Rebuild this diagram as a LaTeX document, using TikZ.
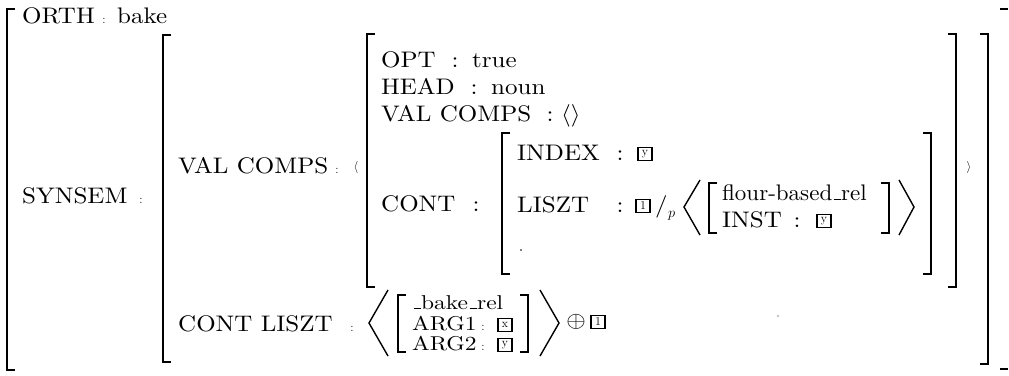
\documentclass[tikz,border=0pt]{standalone}
\newcommand\tx[1]{\scalebox{2.5}[2.25]{#1}}
\newcommand\tf[1]{\scalebox{2.3}[2.25]{#1}}
\newcommand\ts[1]{\scalebox{2.35}[2.0]{#1}}
\newcommand\us{\leavevmode\kern.06em\vbox{\hrule width .3em height 0.5pt}\kern.02em}
\begin{document}
\begin{tikzpicture}[x=1pt,y=-1pt,
  lbl/.style={anchor=base west, inner sep=0pt, font=\fontsize{10}{12}\selectfont},
  sc/.style={anchor=base, inner sep=0pt, font=\fontsize{12}{14}\selectfont},
  nc/.style={anchor=base, inner sep=0pt, font=\fontsize{10}{12}\selectfont},
  tag/.style={draw, line width=1.1pt, minimum width=14pt, minimum height=13pt, inner sep=0pt, font=\fontsize{12}{14}\selectfont},
  br/.style={line width=1.5pt},
  ang/.style={line width=1.4pt},
]
\useasboundingbox (0,0) rectangle (1009,375);
\newcommand\lbrk[3]{\draw[br] (#1+8,#2) -- (#1,#2) -- (#1,#3) -- (#1+8,#3);}
\newcommand\rbrk[3]{\draw[br] (#1-8,#2) -- (#1,#2) -- (#1,#3) -- (#1-8,#3);}
% outer matrix
\lbrk{7}{9}{370}
\draw[br] (1000,9) -- (1008,9);
\draw[br] (1000,369) -- (1008,369);
\node[lbl] (orth) at (22,23) {\tx{ORTH}};
\node[sc] (c1) at (104,23) {:};
\node[lbl] (bake) at (117,23) {\tx{bake}};
\node[lbl] (synsem) at (22,203) {\tx{SYNSEM}};
\node[sc] (c2) at (141,203) {:};
% synsem value
\lbrk{163}{35}{362}
\rbrk{988}{34}{364}
\node[lbl] (vc) at (178,173) {\tx{VAL COMPS}};
\node[sc] (c3) at (337,173) {:};
\node[anchor=base, inner sep=0pt, font=\fontsize{12}{14}\selectfont] (la) at (356,170) {$\langle$};
\node[anchor=base, inner sep=0pt, font=\fontsize{12}{14}\selectfont] (ra) at (969,170) {$\rangle$};
% val comps element
\lbrk{367}{34}{287}
\rbrk{956}{34}{287}
\node[lbl] (opt) at (381,67) {\tx{OPT}};
\node[nc] (c4) at (455,67) {\tx{:}};
\node[lbl] (true) at (472,67) {\tx{true}};
\node[lbl] (head) at (381,94) {\tx{HEAD}};
\node[nc] (c5) at (474,94) {\tx{:}};
\node[lbl] (noun) at (491,94) {\tx{noun}};
\node[lbl] (vc2) at (381,121) {\tx{VAL COMPS}};
\node[nc] (c6) at (550,121) {\tx{:}};
\node[lbl] (empty) at (561,121) {\tx{$\langle\rangle$}};
\node[lbl] (cont) at (381,211) {\tx{CONT}};
\node[nc] (c7) at (476,211) {\tx{:}};
% cont value
\lbrk{502}{133}{274}
\rbrk{931}{133}{274}
\node[lbl] (index) at (517,160) {\tx{INDEX}};
\node[nc] (c8) at (620,160) {\tx{:}};
\node[tag] (ty1) at (645,154) {y};
\node[lbl] (liszt) at (517,212) {\tx{LISZT}};
\node[nc] (c9) at (620,212) {\tx{:}};
\node[tag] (t11) at (643,206) {1};
\node[lbl] (slash) at (655,212) {\tx{/}};
\node[anchor=base west, inner sep=0pt, font=\fontsize{15}{17}\selectfont] (p) at (668,217) {$p$};
\draw[ang] (700,180) -- (684,207) -- (700,235);
\lbrk{709}{183}{233}
\rbrk{889}{183}{233}
\node[lbl] (flour) at (722,200) {\tf{flour-based\us rel}};
\node[lbl] (inst) at (722,227) {\tx{INST}};
\node[nc] (c10) at (797,227) {\tx{:}};
\node[tag] (ty2) at (824,221) {y};
\draw[ang] (899,180) -- (914,207) -- (899,235);
\fill (521,250) circle (0.8);
\fill (778,316) circle (0.6);
% cont liszt
\node[lbl] (cl) at (178,331) {\tx{CONT LISZT}};
\node[sc] (c11) at (352,331) {:};
\draw[ang] (388,290) -- (369,323) -- (388,356);
\lbrk{398}{295}{352}
\rbrk{528}{295}{352}
\node[lbl] (bakerel) at (412,309) {\ts{\us bake\us rel}};
\node[lbl] (arg1) at (412,330) {\ts{ARG1}};
\node[sc] (c12) at (483,330) {:};
\node[tag] (tx) at (505,325) {x};
\node[lbl] (arg2) at (412,350) {\ts{ARG2}};
\node[sc] (c13) at (483,350) {:};
\node[tag] (ty3) at (505,345) {y};
\draw[ang] (540,290) -- (559,323) -- (540,356);
\node[inner sep=0pt, font=\fontsize{10}{12}\selectfont] (oplus) at (576,322) {\tx{$\oplus$}};
\node[tag] (t12) at (598,322) {1};
\end{tikzpicture}
\end{document}
